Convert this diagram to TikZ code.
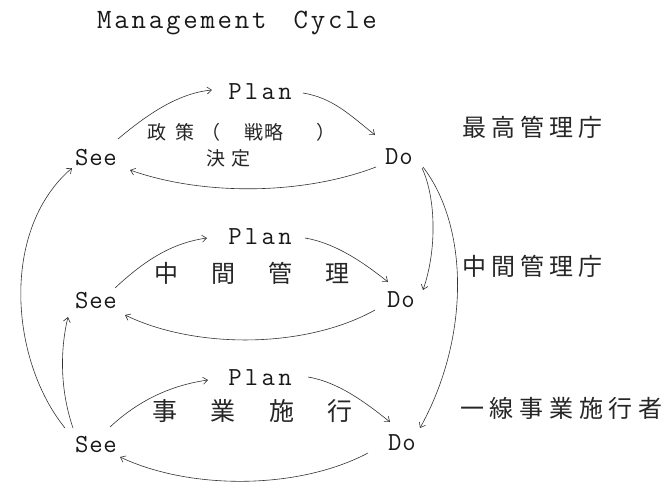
\documentclass[tikz,border=0pt]{standalone}
\usepackage{fontspec}
\newfontfamily\jfont{Noto Sans CJK JP}
\usetikzlibrary{arrows.meta}
\makeatletter
\newcommand\spaceout[2]{\def\so@gap{#1}\so@first#2\relax}
\def\so@first#1{\ifx#1\relax\else#1\expandafter\so@rest\fi}
\def\so@rest#1{\ifx#1\relax\else\kern\so@gap\relax#1\expandafter\so@rest\fi}
\makeatother
\tikzset{
  eng/.style={font=\ttfamily\fontsize{26}{28}\selectfont, inner sep=0pt, text=black!90},
  ttl/.style={font=\ttfamily\fontsize{28}{30}\selectfont, inner sep=0pt, text=black!90},
  jp/.style={font=\jfont\fontsize{#1}{#1}\selectfont, inner sep=0pt, anchor=west, text=black!85},
  arr/.style={draw=black!80, line width=0.6pt, -{Straight Barb[length=4.5pt,width=7pt]}},
}
\begin{document}
\begin{tikzpicture}[x=1pt,y=-1pt]
\path[fill=white] (0,0) rectangle (664,483);
\useasboundingbox (0,0) rectangle (664,483);

% title
\node[ttl, anchor=base west] (title) at (97,28) {\spaceout{2.8pt}{Management}\hspace{27pt}\spaceout{2.8pt}{Cycle}};

% top cycle
\node[eng] (planT) at (260,92) {\spaceout{3.3pt}{Plan}};
\node[eng] (seeT) at (96,158) {\spaceout{0.7pt}{See}};
\node[eng] (doT) at (399,157) {\spaceout{1pt}{Do}};
\node[jp=19] (polT) at (147,132) {政\kern9pt 策\kern7.5pt （\kern24pt 戦\kern1pt 略\kern32.5pt ）};
\node[jp=19] (decT) at (206.5,158) {決\kern6pt 定};
\node[jp=24] (labT) at (462,127) {\spaceout{5pt}{最高管理庁}};

% middle cycle
\node[eng] (planM) at (260,237) {\spaceout{3.3pt}{Plan}};
\node[eng] (seeM) at (96,301) {\spaceout{0.7pt}{See}};
\node[eng] (doM) at (401,300) {\spaceout{1pt}{Do}};
\node[jp=24] (midM) at (154,273) {\spaceout{33pt}{中間管理}};
\node[jp=24] (labM) at (462,266) {\spaceout{5pt}{中間管理庁}};

% bottom cycle
\node[eng] (planB) at (260,378) {\spaceout{3.3pt}{Plan}};
\node[eng] (seeB) at (96,445) {\spaceout{0.7pt}{See}};
\node[eng] (doB) at (402,443) {\spaceout{1pt}{Do}};
\node[jp=25] (exeB) at (152,411) {\spaceout{33.5pt}{事業施行}};
\node[jp=24] (labB) at (460,408) {\spaceout{5.7pt}{一線事業施行者}};

% top connectors
\draw[arr] ([shift={(22,-19)}]seeT.center) .. controls +(32,-27) and +(-32,3) .. ([shift={(-48,-2)}]planT.center);
\draw[arr] ([shift={(43,1)}]planT.center) .. controls +(30,5) and +(-25,-20) .. ([shift={(-24,-22)}]doT.center);
\draw[arr] ([shift={(-23,10)}]doT.center) .. controls +(-76,29) and +(70,25) .. ([shift={(34,12)}]seeT.center);

% middle connectors
\draw[arr] ([shift={(19,-13)}]seeM.center) .. controls +(30,-28) and +(-35,5) .. ([shift={(-53,1)}]planM.center);
\draw[arr] ([shift={(45,1)}]planM.center) .. controls +(30,5) and +(-25,-20) .. ([shift={(-13,-18)}]doM.center);
\draw[arr] ([shift={(-26,10)}]doM.center) .. controls +(-70,39) and +(70,34) .. ([shift={(29,14)}]seeM.center);

% bottom connectors
\draw[arr] ([shift={(14,-18)}]seeB.center) .. controls +(30,-28) and +(-35,5) .. ([shift={(-52,2)}]planB.center);
\draw[arr] ([shift={(48,-1)}]planB.center) .. controls +(30,5) and +(-25,-20) .. ([shift={(-12,-21)}]doB.center);
\draw[arr] ([shift={(-34,10)}]doB.center) .. controls +(-70,37) and +(70,33) .. ([shift={(24,12)}]seeB.center);

% left connectors
\draw[arr] ([shift={(-31,-17)}]seeB.center) .. controls +(-55,-68) and +(-72,62) .. ([shift={(-24,10)}]seeT.center);
\draw[arr] ([shift={(-23,-17)}]seeB.center) .. controls +(-13,-38) and +(-8,33) .. ([shift={(-28,16)}]seeM.center);

% right connectors
\draw[arr] ([shift={(23,11)}]doT.center) .. controls +(14,30) and +(14,-40) .. ([shift={(22,-10)}]doM.center);
\draw[arr] ([shift={(24,10)}]doT.center) .. controls +(46,60) and +(50,-90) .. ([shift={(18,-15)}]doB.center);
\end{tikzpicture}
\end{document}
